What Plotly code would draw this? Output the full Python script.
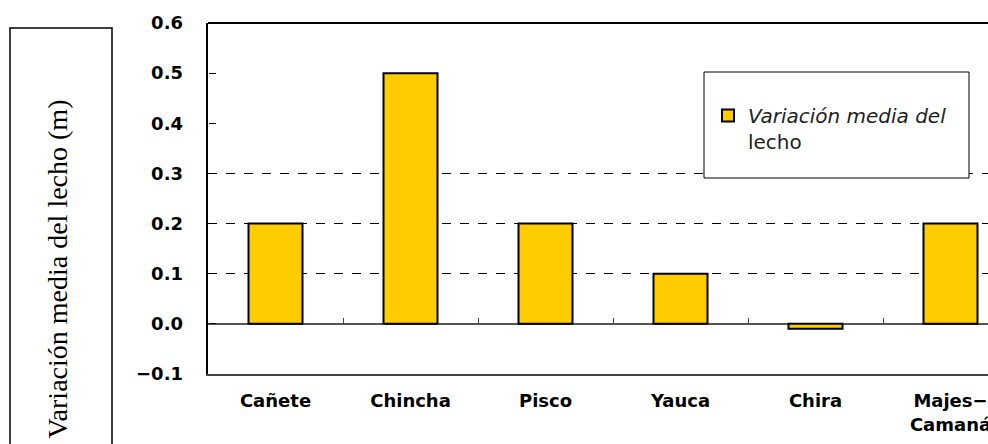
import plotly.graph_objects as go

# ---- data ----
categories = ["Cañete", "Chincha", "Pisco", "Yauca", "Chira", "Majes−<br>Camaná"]
bed_change = [0.2, 0.5, 0.2, 0.1, -0.01, 0.2]
y_ticks = [-0.1, 0.0, 0.1, 0.2, 0.3, 0.4, 0.5, 0.6]
grid_levels = [0.1, 0.2, 0.3]
series_name = "<i>Variación media del</i><br>lecho"
y_title = "Variación media del lecho (m)"

# ---- geometry (pixels) ----
W, H = 988, 444
L, R, T, B = 208, 0, 23, 70
plot_w, plot_h = W - L - R, H - T - B
cat_px = 135  # width of one category slot
y_min, y_max = y_ticks[0], y_ticks[-1]
x_range = [-0.5, -0.5 + plot_w / cat_px]


def px_x(p):
    return (p - L) / plot_w


def px_y(p):
    return (H - B - p) / plot_h


boundaries = [i + 0.5 for i in range(len(categories) - 1)]
tick_font = dict(family="DejaVu Sans", size=18, color="black", weight="bold")

fig = go.Figure()

fig.add_trace(go.Bar(
    x=list(range(len(categories))),
    y=bed_change,
    name=series_name,
    width=0.4,
    marker=dict(color="#FFCC00", line=dict(color="black", width=2)),
    showlegend=True,
))

# carrier trace for the overlay axes (tick labels / boundary ticks)
fig.add_trace(go.Scatter(
    x=[None], y=[None], xaxis="x2", yaxis="y2",
    showlegend=False, hoverinfo="skip", mode="markers",
))

fig.update_layout(
    width=W, height=H,
    margin=dict(l=L, r=R, t=T, b=B, pad=0, autoexpand=False),
    paper_bgcolor="white", plot_bgcolor="white",
    xaxis=dict(
        type="linear", range=x_range, automargin=False,
        tickvals=list(range(len(categories))), ticktext=categories,
        ticks="", tickfont=tick_font, ticklabelstandoff=10,
        ticklabeloverflow="allow",
        showline=True, linecolor="#444", linewidth=1.5,
        showgrid=False, zeroline=False,
    ),
    yaxis=dict(
        range=[y_min, y_max], tickvals=grid_levels, showticklabels=False,
        automargin=False,
        ticks="", showgrid=True, gridcolor="black", gridwidth=1, griddash="dash",
        zeroline=True, zerolinecolor="#555", zerolinewidth=1.5,
        showline=True, linecolor="black", linewidth=1.5,
    ),
    xaxis2=dict(
        type="linear", overlaying="x", anchor="free", automargin=False,
        position=(0 - y_min) / (y_max - y_min),
        range=x_range, tickvals=boundaries, ticks="inside", ticklen=6,
        tickcolor="#444", tickwidth=1, showticklabels=False,
        showline=False, showgrid=False, zeroline=False,
    ),
    yaxis2=dict(
        type="linear", overlaying="y", anchor="free", position=0, side="left",
        automargin=False,
        range=[y_min, y_max], tickvals=y_ticks, tickformat=".1f",
        ticks="inside", ticklen=7, tickcolor="black", tickwidth=1,
        tickfont=tick_font, ticklabelstandoff=25,
        showline=False, showgrid=False, zeroline=False,
    ),
    legend=dict(
        x=px_x(708), y=px_y(96), xanchor="left", yanchor="top",
        bgcolor="rgba(0,0,0,0)", borderwidth=0, valign="top",
        font=dict(family="DejaVu Sans", size=20, color="#222"),
    ),
    shapes=[
        # top frame line of the plot area
        dict(type="line", xref="paper", yref="paper", x0=0, x1=1, y0=1, y1=1,
             line=dict(color="black", width=2)),
        # legend frame
        dict(type="rect", xref="paper", yref="paper", layer="above",
             x0=px_x(704), x1=px_x(969), y0=px_y(178), y1=px_y(72),
             fillcolor="white", line=dict(color="black", width=1)),
        # frame around the axis title
        dict(type="rect", xref="paper", yref="paper",
             x0=px_x(10), x1=px_x(112), y0=px_y(480), y1=px_y(28),
             line=dict(color="black", width=1.5)),
    ],
    annotations=[
        dict(text=y_title, xref="paper", yref="paper",
             x=px_x(57), y=px_y(269.5), xanchor="center", yanchor="middle",
             textangle=-90, showarrow=False,
             font=dict(family="Liberation Serif", size=28, color="black")),
    ],
)

fig.write_html("out.html")
